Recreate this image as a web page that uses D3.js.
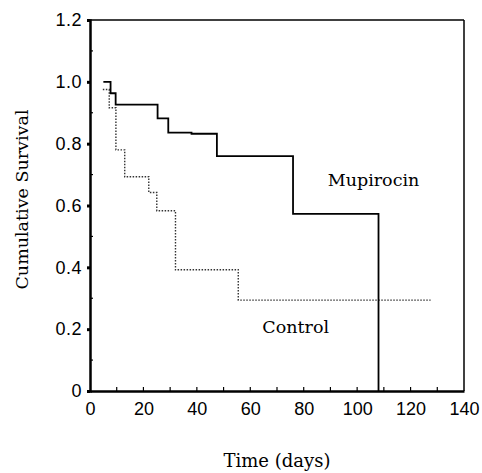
<!DOCTYPE html>
<html lang="en">
<head>
    <meta charset="UTF-8">
    <title>Cumulative Survival</title>
    <script src="https://d3js.org/d3.v7.min.js"></script>
    <style>
        body { margin: 0; background: #fff; }
    </style>
</head>
<body>
<svg width="482" height="473"></svg>
<script>
    // Kaplan-Meier steps: time (days) and survival after each drop
    var mupirocinDays = [5, 7.7, 9.6, 25.3, 29.3, 38, 47.5, 76, 108];
    var mupirocinSurv = [1.0, 0.963, 0.926, 0.882, 0.836, 0.832, 0.76, 0.573, 0];
    var controlDays = [4.8, 7.2, 9.7, 13, 22, 25, 32, 55.5, 127.5];
    var controlSurv = [0.975, 0.916, 0.78, 0.693, 0.642, 0.583, 0.392, 0.294, 0.294];
    var xTicks = [0, 20, 40, 60, 80, 100, 120, 140];
    var yTicks = [0, 0.2, 0.4, 0.6, 0.8, 1.0, 1.2];
    var yTickLabels = ["0", "0.2", "0.4", "0.6", "0.8", "1.0", "1.2"];

    var svg = d3.select("svg"),
        margin = {top: 20, right: 18, bottom: 82, left: 90},
        width = +svg.attr("width") - margin.left - margin.right,
        height = +svg.attr("height") - margin.top - margin.bottom,
        g = svg.append("g")
               .attr("transform", "translate(" + margin.left + "," + margin.top + ")");

    var x = d3.scaleLinear().domain([0, 140]).range([0, width]),
        y = d3.scaleLinear().domain([0, 1.2]).range([height, 0]);

    var sans = "'Liberation Sans', Arial, sans-serif",
        serif = "'DejaVu Serif', serif";

    // frame: top and right thinner
    g.append("line").attr("x1", 0).attr("x2", width).attr("y1", 0).attr("y2", 0)
        .attr("stroke", "#000").attr("stroke-width", 1.5);
    g.append("line").attr("x1", width).attr("x2", width).attr("y1", 0).attr("y2", height)
        .attr("stroke", "#000").attr("stroke-width", 1.5);

    // minor ticks
    g.selectAll(".xminor").data(d3.range(10, 140, 10)).enter().append("line")
        .attr("x1", d => x(d)).attr("x2", d => x(d))
        .attr("y1", height).attr("y2", height - 4)
        .attr("stroke", "#000").attr("stroke-width", 1.2);
    g.selectAll(".yminor").data(d3.range(0.1, 1.2, 0.2)).enter().append("line")
        .attr("x1", 0).attr("x2", 3)
        .attr("y1", d => y(d)).attr("y2", d => y(d))
        .attr("stroke", "#000").attr("stroke-width", 1.2);

    var xAxis = g.append("g")
        .attr("transform", "translate(0," + height + ")")
        .call(d3.axisBottom(x).tickValues(xTicks).tickSize(0).tickPadding(11));
    xAxis.select(".domain").attr("stroke-width", 2.5);
    xAxis.selectAll("text").attr("font-family", sans).attr("font-size", 18).attr("fill", "#000");

    var yAxis = g.append("g")
        .call(d3.axisLeft(y).tickValues(yTicks).tickFormat((d, i) => yTickLabels[i])
              .tickSize(3).tickPadding(5));
    yAxis.select(".domain").attr("stroke-width", 2.5);
    yAxis.selectAll(".tick line").attr("stroke-width", 3);
    yAxis.selectAll("text").attr("font-family", sans).attr("font-size", 18)
        .attr("fill", "#000").attr("letter-spacing", 0.5);

    var step = d3.line().curve(d3.curveStepAfter)
        .x(d => x(d[0])).y(d => y(d[1]));

    g.append("path")
        .datum(controlDays.map((d, i) => [d, controlSurv[i]]))
        .attr("d", step)
        .attr("fill", "none").attr("stroke", "#333")
        .attr("stroke-width", 1.4).attr("stroke-dasharray", "1.5,1.5");

    g.append("path")
        .datum(mupirocinDays.map((d, i) => [d, mupirocinSurv[i]]))
        .attr("d", step)
        .attr("fill", "none").attr("stroke", "#000")
        .attr("stroke-width", 1.8);

    // labels
    g.append("text").attr("x", x(89)).attr("y", y(0.663))
        .attr("font-family", serif).attr("font-size", 17.5).text("Mupirocin");
    g.append("text").attr("x", x(64.5)).attr("y", y(0.1875))
        .attr("font-family", serif).attr("font-size", 17.5).text("Control");

    svg.append("text")
        .attr("x", margin.left + width / 2).attr("y", 467)
        .attr("text-anchor", "middle")
        .attr("font-family", serif).attr("font-size", 18).text("Time (days)");

    svg.append("text")
        .attr("transform", "translate(28," + (margin.top + height / 2 - 6) + ") rotate(-90)")
        .attr("text-anchor", "middle")
        .attr("font-family", serif).attr("font-size", 17.5).text("Cumulative Survival");
</script>
</body>
</html>
